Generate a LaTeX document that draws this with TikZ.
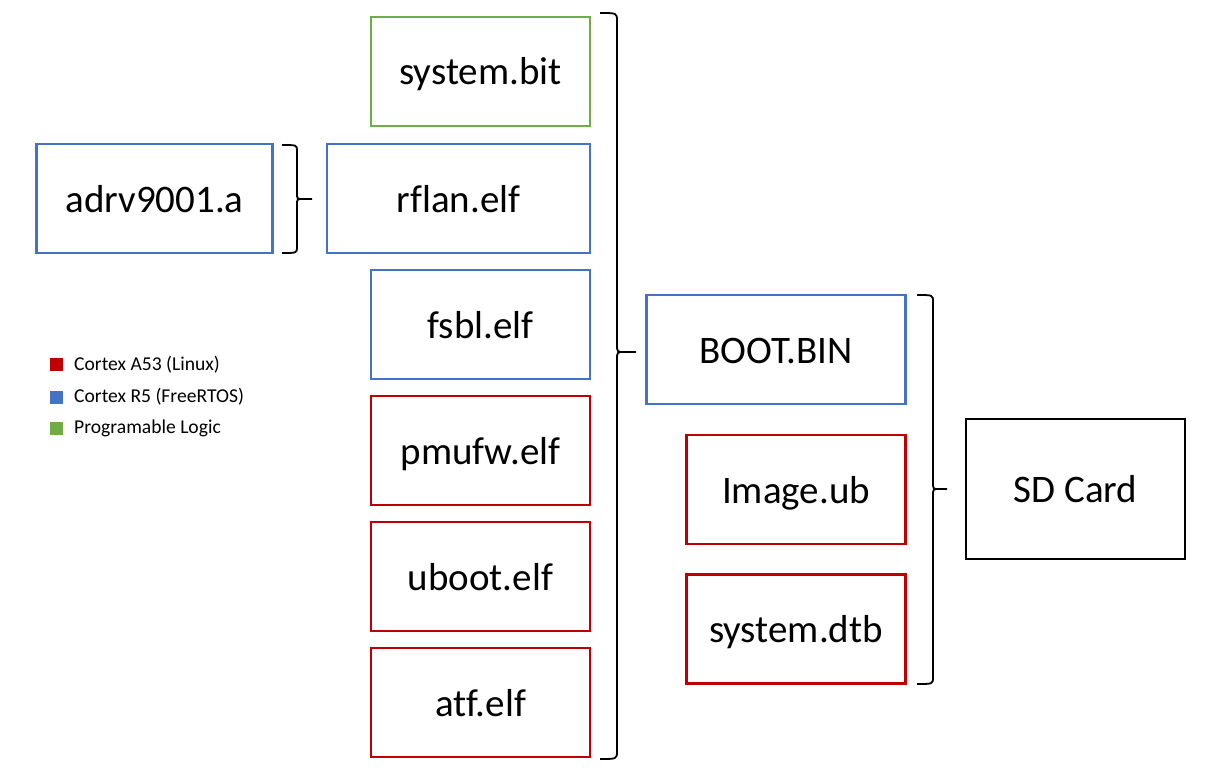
\documentclass[tikz,border=0pt]{standalone}
\usepackage{fontspec}
\setmainfont[Ligatures={NoCommon}]{Carlito}
\definecolor{cred}{HTML}{C00000}
\definecolor{cblue}{HTML}{4472C4}
\definecolor{cgreen}{HTML}{70AD47}
\begin{document}
\begin{tikzpicture}[x=1pt,y=-1pt,
  filebox/.style={draw,line width=2.8pt,minimum width=219pt,minimum height=109pt,
    inner sep=0pt,font=\fontsize{39}{42}\selectfont,text height=36pt,text depth=9pt,anchor=center},
  redbox/.style={filebox,draw=cred},
  bluebox/.style={filebox,draw=cblue},
  greenbox/.style={filebox,draw=cgreen},
  legsq/.style={minimum size=13pt,inner sep=0pt,anchor=center},
  legtxt/.style={anchor=west,inner sep=0pt,font=\fontsize{19.6}{21}\selectfont},
  bracepath/.style={draw=black,line width=1.8pt}]
\useasboundingbox[fill=white] (0,0) rectangle (1213,773);

% file boxes
\node[greenbox] (sysbit) at (480.5,71.5) {system.bit};
\node[bluebox,minimum width=236pt] (adrv) at (154.5,198.5) {adrv9001.a};
\node[bluebox,minimum width=263pt] (rflan) at (458.5,198.5) {rflan.elf};
\node[bluebox] (fsbl) at (480.5,324.5) {fsbl.elf};
\node[redbox] (pmufw) at (480.5,450.5) {pmufw.elf};
\node[redbox] (uboot) at (480.5,576.5) {uboot.elf};
\node[redbox] (atf) at (480.5,702.5) {atf.elf};
\node[bluebox,minimum width=259pt] (boot) at (776,349.5) {BOOT.BIN};
\node[redbox] (image) at (796,489.5) {Image.ub};
\node[redbox] (dtb) at (796,629) {system.dtb};
\node[filebox,draw=black,minimum height=140pt] (sd) at (1075.5,489) {SD Card};

% legend
\node[legsq,fill=cred] (lr) at (56.5,364.5) {};
\node[legtxt] (lrt) at (74,364.5) {Cortex A53 (Linux)};
\node[legsq,fill=cblue] (lb) at (56.5,397) {};
\node[legtxt] (lbt) at (74,397) {Cortex R5 (FreeRTOS)};
\node[legsq,fill=cgreen] (lg) at (56.5,428) {};
\node[legtxt] (lgt) at (74,428) {Programable Logic};

% brace 1 (adrv9001.a -> rflan.elf)
\coordinate (b1tip) at (312,199);
\draw[bracepath] (282,145) .. controls (297,145) .. (297,151) -- (297,193)
  .. controls (297,199) .. (303,199) -- (b1tip);
\draw[bracepath] (282,253) .. controls (297,253) .. (297,247) -- (297,205)
  .. controls (297,199) .. (303,199);

% brace 2 (files -> BOOT.BIN)
\coordinate (b2tip) at (636,352);
\draw[bracepath] (600,13) .. controls (617,13) .. (617,21) -- (617,344)
  .. controls (617,352) .. (624,352) -- (b2tip);
\draw[bracepath] (600,759) .. controls (617,759) .. (617,751) -- (617,360)
  .. controls (617,352) .. (624,352);

% brace 3 (BOOT.BIN, Image.ub, system.dtb -> SD Card)
\coordinate (b3tip) at (947,489);
\draw[bracepath] (917,295) .. controls (933,295) .. (933,302) -- (933,482)
  .. controls (933,489) .. (939,489) -- (b3tip);
\draw[bracepath] (917,684) .. controls (933,684) .. (933,677) -- (933,496)
  .. controls (933,489) .. (939,489);
\end{tikzpicture}
\end{document}
